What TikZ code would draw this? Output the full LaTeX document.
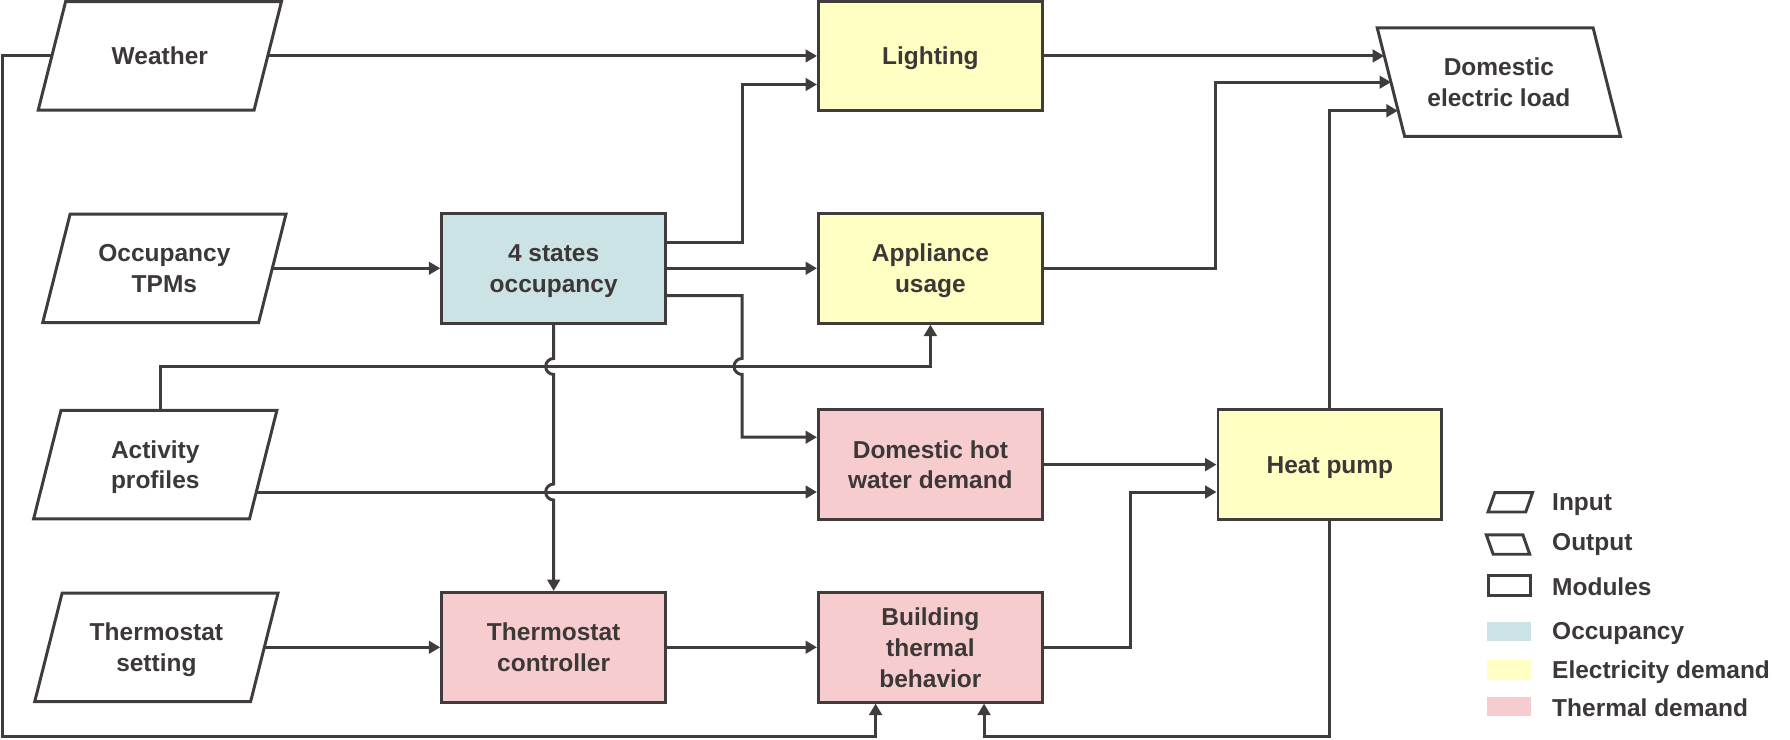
\documentclass[tikz,border=0pt]{standalone}
\usepackage{fontspec}
\setmainfont{Liberation Sans}
\usepackage{xcolor}
\usetikzlibrary{arrows.meta,calc}

\definecolor{lineGray}{RGB}{64,60,60}
\definecolor{textGray}{RGB}{60,56,56}
\definecolor{occFill}{RGB}{204,227,230}
\definecolor{elecFill}{RGB}{255,255,196}
\definecolor{thermFill}{RGB}{247,204,206}

\begin{document}
\begin{tikzpicture}
[x=0.01cm, y=-0.01cm,
 lineDecorate/.style={-{Triangle[length=0.1cm,width=0.11cm]}, line width=0.26mm, draw=lineGray},
 shapeDecorate/.style={line width=0.26mm, draw=lineGray, line join=miter},
 nodeText/.style={font=\fontsize{6.1}{7.7}\selectfont\bfseries, text=textGray, align=center, text depth=0pt},
 moduleDecorate/.style={nodeText, shape=rectangle, draw=lineGray, line width=0.26mm, minimum width=1.96cm, minimum height=0.96cm, inner sep=0pt},
 ioDecorate/.style={nodeText, shape=rectangle, minimum width=1.89cm, minimum height=0.95cm, inner sep=0pt, outer sep=0pt},
 legendDecorate/.style={line width=0.26mm, minimum width=0.39cm, minimum height=0.17cm, inner sep=0pt, outer sep=0pt}]

 \useasboundingbox (0,0) rectangle (1568,648);

 % inputs and output
 \node (weather) at (140,49) [ioDecorate] {Weather};
 \node (tpm) at (144,235) [ioDecorate] {Occupancy\\TPMs};
 \node (activity) at (136,407) [ioDecorate] {Activity\\profiles};
 \node (tset) at (137,567) [ioDecorate] {Thermostat\\setting};
 \node (dload) at (1313,72) [ioDecorate] {Domestic\\electric load};
 \foreach \n in {weather,tpm,activity,tset}
   \draw[shapeDecorate] ($(\n.south west)+(-12,0)$) -- ($(\n.south east)+(-12,0)$) -- ($(\n.north east)+(12,0)$) -- ($(\n.north west)+(12,0)$) -- cycle;
 \draw[shapeDecorate] ($(dload.south west)+(12,0)$) -- ($(dload.south east)+(12,0)$) -- ($(dload.north east)+(-12,0)$) -- ($(dload.north west)+(-12,0)$) -- cycle;

 % modules
 \node (occ) at (485,235) [moduleDecorate, fill=occFill] {4 states\\occupancy};
 \node (light) at (815,49) [moduleDecorate, fill=elecFill] {Lighting};
 \node (appl) at (815,235) [moduleDecorate, fill=elecFill] {Appliance\\usage};
 \node (dhw) at (815,407) [moduleDecorate, fill=thermFill] {Domestic hot\\water demand};
 \node (hp) at (1165,407) [moduleDecorate, fill=elecFill] {Heat pump};
 \node (tctrl) at (485,567) [moduleDecorate, fill=thermFill] {Thermostat\\controller};
 \node (btb) at (815,567) [moduleDecorate, fill=thermFill] {Building\\thermal\\behavior};

 \coordinate (actBus) at (0,321);
 \coordinate (loop) at (2,645);
 \coordinate (elecBus) at (1065,0);
 \coordinate (heatBus) at (990,0);
 \coordinate (hopA) at (485,321);
 \coordinate (hopB) at (485,431);
 \coordinate (hopC) at (650,321);

 \draw[lineDecorate] (weather.east) -- (light.west);
 \draw[lineDecorate] (tpm.east) -- (occ.west);
 \draw[lineDecorate] (occ.east) -- (appl.west);
 \draw[lineDecorate] ($(occ.east)+(0,-23)$) -| ($(hopC |- light.west)+(0,25)$) -- ($(light.west)+(0,25)$);
 \draw[lineDecorate] ($(occ.east)+(0,24)$) -| ($(hopC)+(0,-7)$) arc[start angle=90, end angle=270, radius=0.07cm] |- ($(dhw.west)+(0,-24)$);
 \draw[lineDecorate] (occ.south) -- ($(hopA)+(0,-7)$) arc[start angle=90, end angle=270, radius=0.07cm]
   -- ($(hopB)+(0,-7)$) arc[start angle=90, end angle=270, radius=0.07cm] -- (tctrl.north);
 \draw[lineDecorate] ($(activity.north)+(5,0)$) |- (appl.south |- actBus) -- (appl.south);
 \draw[lineDecorate] ($(activity.east)+(-6,24)$) -- ($(dhw.west)+(0,24)$);
 \draw[lineDecorate] (tset.east) -- (tctrl.west);
 \draw[lineDecorate] (tctrl.east) -- (btb.west);
 \draw[lineDecorate] (light.east) -- ($(dload.west)+(-6,-23)$);
 \draw[lineDecorate] (appl.east) -- (elecBus |- appl.east) |- (dload.west);
 \draw[lineDecorate] (hp.north) |- ($(dload.west)+(6,25)$);
 \draw[lineDecorate] (dhw.east) -- (hp.west);
 \draw[lineDecorate] (btb.east) -- (heatBus |- btb.east) |- ($(hp.west)+(0,24)$);
 \draw[lineDecorate] (hp.south) |- ($(btb.south |- loop)+(47,0)$) -- ($(btb.south)+(47,0)$);
 \draw[lineDecorate] (weather.west) -| (loop) -| ($(btb.south)+(-48,0)$);

 % legend
 \node (legIn) at (1323,440) [legendDecorate, minimum width=0.33cm] {};
 \node (legOut) at (1321,477) [legendDecorate, minimum width=0.32cm] {};
 \node (legMod) at (1322,513) [legendDecorate, draw=lineGray, minimum width=0.37cm] {};
 \draw[shapeDecorate] ($(legIn.south west)+(-3,0)$) -- ($(legIn.south east)+(-3,0)$) -- ($(legIn.north east)+(3,0)$) -- ($(legIn.north west)+(3,0)$) -- cycle;
 \draw[shapeDecorate] ($(legOut.south west)+(3,0)$) -- ($(legOut.south east)+(3,0)$) -- ($(legOut.north east)+(-3,0)$) -- ($(legOut.north west)+(-3,0)$) -- cycle;
 \foreach \y/\c [count=\k] in {553/occFill, 587/elecFill, 619/thermFill}
   \node (legBox\k) at (1322,\y) [legendDecorate, fill=\c] {};
 \foreach \y/\t [count=\k] in {440/Input, 475/Output, 514/Modules, 553/Occupancy, 587/Electricity demand, 620/Thermal demand}
   \node (legText\k) at (1359,\y) [nodeText, anchor=west, inner sep=0pt] {\t};
\end{tikzpicture}
\end{document}
